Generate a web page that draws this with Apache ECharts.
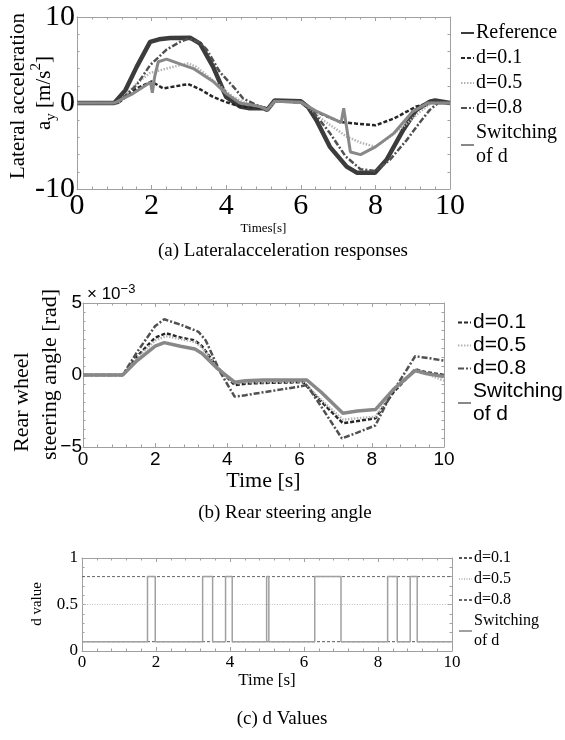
<!DOCTYPE html>
<html><head><meta charset="utf-8">
<script src="https://cdn.jsdelivr.net/npm/echarts@6/dist/echarts.min.js"></script>
<style>html,body{margin:0;padding:0;background:#fff}#c{width:565px;height:740px}</style>
</head><body><div id="c"></div>
<script>
// ---------- tick definitions ----------
const timeTicks = [0, 2, 4, 6, 8, 10];
const aYTicks = [-10, 0, 10];
const bYTicks = [-5, 0, 5];
const cYTicks = [0, 0.5, 1];

// ---------- (a) lateral acceleration [m/s^2] ----------
const aRefT = [0, 1.0, 1.3, 1.6, 1.96, 2.2, 2.5, 3.03, 3.3, 3.65, 4.0, 4.37, 4.6, 5.0, 5.1, 5.3, 6.0, 6.2, 6.42, 6.78, 7.23, 7.5, 7.99, 8.3, 8.75, 9.1, 9.46, 9.6, 10];
const aRefV = [0, 0, 1.5, 4.2, 7.1, 7.4, 7.55, 7.6, 6.9, 4.2, 0.7, -0.4, -0.6, -0.6, -0.8, 0.3, 0.2, -0.5, -2.0, -5.1, -7.4, -8.1, -8.1, -6.6, -3.1, -0.8, 0.15, 0.3, 0];
const a01T = [0, 1.1, 1.6, 2.0, 2.31, 2.98, 3.3, 3.65, 4.0, 4.37, 5.0, 5.1, 5.3, 6.0, 6.4, 7.05, 7.5, 8.0, 8.5, 9.1, 9.46, 10];
const a01V = [0, 0, 1.7, 2.5, 1.7, 2.2, 1.6, 0.7, 0.1, -0.4, -0.6, -0.8, 0.2, 0.1, -1.0, -2.2, -2.4, -2.6, -1.8, -0.4, 0, 0];
const a05T = [0, 1.1, 1.6, 1.96, 2.22, 2.76, 2.98, 3.2, 3.74, 4.19, 4.5, 5.0, 5.1, 5.3, 6.0, 6.2, 6.6, 7.23, 7.6, 8.0, 8.4, 8.84, 9.2, 9.5, 10];
const a05V = [0, 0, 2.3, 3.5, 3.8, 4.4, 4.6, 4.2, 2.3, 0.7, 0, -0.5, -0.8, 0.2, 0.1, -0.5, -2.0, -3.9, -4.6, -5.1, -3.9, -2.4, -1.0, 0, 0];
const a08T = [0, 1.1, 1.6, 1.96, 2.4, 2.76, 3.0, 3.3, 3.48, 3.83, 4.19, 4.46, 4.8, 5.1, 5.3, 6.0, 6.3, 6.78, 7.2, 7.6, 8.0, 8.39, 8.84, 9.2, 9.46, 9.68, 10];
const a08V = [0, 0, 2.1, 4.4, 6.2, 7.1, 7.5, 7.0, 6.2, 3.6, 1.9, 0.5, -0.2, -0.7, 0.2, 0.1, -0.8, -3.5, -6.2, -7.7, -7.9, -6.6, -4.3, -2.2, -0.8, 0, 0];
const aSwT = [0, 1.0, 1.5, 1.97, 2.02, 2.08, 2.18, 2.4, 2.85, 3.12, 3.65, 4.0, 4.1, 4.15, 4.37, 4.9, 5.1, 5.3, 6.0, 6.4, 6.9, 7.08, 7.15, 7.33, 7.6, 8.0, 8.5, 9.0, 9.4, 10];
const aSwV = [0, 0, 1.1, 2.4, 1.2, 3.0, 4.8, 5.1, 4.4, 4.0, 2.5, 1.1, 0.8, 1.0, 0, -0.4, -0.8, 0.2, 0.1, -0.9, -1.9, -2.3, -0.6, -5.7, -6.0, -5.1, -3.5, -1.0, 0, 0];

// ---------- (b) rear steering angle [x 10^-3 rad] ----------
const b01T = [0, 1.1, 1.5, 2.0, 2.3, 2.7, 3.1, 3.3, 3.7, 4.2, 4.5, 5.0, 6.1, 6.5, 7.2, 7.6, 8.1, 8.6, 9.2, 9.5, 10];
const b01V = [0, 0, 1.3, 2.6, 2.9, 2.6, 2.4, 2.0, 0.6, -0.7, -0.6, -0.55, -0.5, -1.6, -3.35, -3.2, -3.0, -1.2, 0.4, 0.2, 0.0];
const b05T = [0, 1.1, 1.5, 2.0, 2.3, 2.7, 3.1, 3.3, 3.7, 4.2, 4.5, 5.0, 6.1, 6.5, 7.2, 7.6, 8.1, 8.6, 9.2, 9.5, 10];
const b05V = [0, 0, 1.2, 2.4, 2.7, 2.5, 2.3, 1.9, 0.6, -0.6, -0.5, -0.5, -0.45, -1.5, -3.1, -3.0, -2.9, -1.0, 0.4, 0.1, -0.4];
const b08T = [0, 1.1, 1.5, 2.0, 2.25, 2.7, 3.2, 3.4, 3.8, 4.2, 4.5, 5.0, 6.0, 6.2, 6.6, 7.17, 7.6, 8.1, 8.5, 9.2, 9.5, 10];
const b08V = [0, 0, 1.6, 3.4, 3.87, 3.5, 3.0, 2.4, 0.2, -1.5, -1.4, -1.2, -0.8, -0.7, -2.2, -4.4, -4.0, -3.5, -1.5, 1.3, 1.2, 1.0];
const bSwT = [0, 1.1, 1.5, 2.0, 2.25, 2.7, 3.1, 3.3, 3.7, 4.2, 4.5, 5.0, 6.2, 6.6, 7.2, 7.6, 8.1, 8.6, 9.2, 9.5, 10];
const bSwV = [0, 0, 1.0, 2.0, 2.25, 2.0, 1.8, 1.5, 0.5, -0.5, -0.4, -0.35, -0.35, -1.2, -2.65, -2.5, -2.4, -1.0, 0.3, 0.1, -0.1];

// ---------- (c) d values ----------
const cSwT = [0, 1.77, 1.98, 3.26, 3.53, 3.88, 4.06, 4.99, 5.05, 6.29, 7.0, 8.26, 8.52, 8.87, 9.06, 10];
const cSwD = [0.1, 0.8, 0.1, 0.8, 0.1, 0.8, 0.1, 0.8, 0.1, 0.8, 0.1, 0.8, 0.1, 0.8, 0.1, 0.1];
const cLevels = [0.1, 0.5, 0.8];

const SERIF = '"Liberation Serif", "Times New Roman", serif';
const SANS = '"Liberation Sans", Arial, sans-serif';
const AX = '#a0a0a0';

function pairs(t, v) { return t.map((x, i) => [x, v[i]]); }

function makeAxes(g, ticks, minor, isX, label) {
  const base = {
    gridIndex: g, type: 'value', min: ticks[0], max: ticks[ticks.length - 1],
    interval: ticks[1] - ticks[0],
    axisLine: { show: true, onZero: false, lineStyle: { color: AX, width: 1 } },
    axisTick: { show: true, inside: true, length: 4, lineStyle: { color: AX } },
    minorTick: { show: true, splitNumber: minor, length: 2.5, lineStyle: { color: AX } },
    splitLine: { show: false }
  };
  const main = Object.assign({}, base, { position: isX ? 'bottom' : 'left', axisLabel: label });
  const mirror = Object.assign({}, base, { position: isX ? 'top' : 'right', axisLabel: { show: false } });
  return [main, mirror];
}

const xAxis = [].concat(
  makeAxes(0, timeTicks, 5, true, { fontFamily: SERIF, fontSize: 30, color: '#000', margin: 2 }),
  makeAxes(1, timeTicks, 5, true, { fontFamily: SANS, fontSize: 19, color: '#000', margin: 3 }),
  makeAxes(2, timeTicks, 5, true, { fontFamily: SERIF, fontSize: 17, color: '#000', margin: 3 })
);
xAxis[0].name = 'Times[s]'; xAxis[0].nameLocation = 'middle'; xAxis[0].nameGap = 27;
xAxis[0].nameTextStyle = { fontFamily: SERIF, fontSize: 13, color: '#000' };
xAxis[2].name = 'Time [s]'; xAxis[2].nameLocation = 'middle'; xAxis[2].nameGap = 19;
xAxis[2].nameTextStyle = { fontFamily: SERIF, fontSize: 22, color: '#000' };
xAxis[4].name = 'Time [s]'; xAxis[4].nameLocation = 'middle'; xAxis[4].nameGap = 15;
xAxis[4].nameTextStyle = { fontFamily: SERIF, fontSize: 17, color: '#000' };

const yAxis = [].concat(
  makeAxes(0, aYTicks, 5, false, { fontFamily: SERIF, fontSize: 30, color: '#000', margin: 2 }),
  makeAxes(1, bYTicks, 8, false, { fontFamily: SANS, fontSize: 19, color: '#000', margin: 1,
    formatter: v => String(v).replace('-', '\u2212') }),
  makeAxes(2, cYTicks, 5, false, { fontFamily: SERIF, fontSize: 17, color: '#000', margin: 4 })
);

function line(name, xi, yi, data, color, width, type, extra) {
  return Object.assign({
    name, type: 'line', xAxisIndex: xi, yAxisIndex: yi, data,
    showSymbol: false, symbol: 'none', animation: false, silent: true,
    lineStyle: { color, width, type }, itemStyle: { color }
  }, extra || {});
}

const DASH = [4, 2], DOT = [1.5, 1.5], DASHDOT = [6, 2, 2, 2];
const SWN = 'Switching\nof d';

const series = [
  line('a:Reference', 0, 0, pairs(aRefT, aRefV), '#3c3c3c', 4.5, 'solid'),
  line('a:d=0.1', 0, 0, pairs(a01T, a01V), '#262626', 2.5, DASH),
  line('a:d=0.5', 0, 0, pairs(a05T, a05V), '#b4b4b4', 2.5, DOT),
  line('a:d=0.8', 0, 0, pairs(a08T, a08V), '#505050', 2.5, DASHDOT),
  line('a:' + SWN, 0, 0, pairs(aSwT, aSwV), '#888888', 3, 'solid'),

  line('b:d=0.1', 2, 2, pairs(b01T, b01V), '#262626', 2.5, DASH),
  line('b:d=0.5', 2, 2, pairs(b05T, b05V), '#b4b4b4', 2.5, DOT),
  line('b:d=0.8', 2, 2, pairs(b08T, b08V), '#505050', 2.5, DASHDOT),
  line('b:' + SWN, 2, 2, pairs(bSwT, bSwV), '#888888', 3.5, 'solid'),

  line('c:d=0.1', 4, 4, [[timeTicks[0], cLevels[0]], [timeTicks[5], cLevels[0]]], '#555555', 1, [3, 2]),
  line('c:d=0.5', 4, 4, [[timeTicks[0], cLevels[1]], [timeTicks[5], cLevels[1]]], '#c0c0c0', 1, [1, 1.5]),
  line('c:d=0.8', 4, 4, [[timeTicks[0], cLevels[2]], [timeTicks[5], cLevels[2]]], '#666666', 1, [3, 2]),
  line('c:' + SWN, 4, 4, pairs(cSwT, cSwD), '#a0a0a0', 1.5, 'solid', { step: 'end' })
];

function legend(prefix, names, left, top, font, size, lh, gap) {
  return {
    data: names.map(n => prefix + n), orient: 'vertical', left, top, padding: 0,
    itemWidth: 13, itemHeight: 2, itemGap: gap, selectedMode: false,
    itemStyle: { color: 'rgba(0,0,0,0)', borderColor: 'rgba(0,0,0,0)', borderWidth: 0, opacity: 0 },
    formatter: n => n.slice(2),
    textStyle: { fontFamily: font, fontSize: size, lineHeight: lh, color: '#000', padding: [0, 0, 0, -3] }
  };
}

const txt = (text, x, y, font, size, align, extra) => Object.assign({
  type: 'text', x, y, silent: true,
  style: { text, fill: '#000', font: size + 'px ' + font, textAlign: align || 'center', textVerticalAlign: 'middle' }
}, extra || {});

const graphic = [
  // y-axis titles
  txt('Lateral acceleration', 18, 96, SERIF, 21, 'center', { rotation: Math.PI / 2 }),
  {
    type: 'text', x: 44, y: 93, rotation: Math.PI / 2, silent: true,
    style: {
      text: '{n|a}{sub|y}{n| [m/s}{sup|2}{n|]}', fill: '#000', textAlign: 'center', textVerticalAlign: 'middle',
      rich: {
        n: { fontFamily: SERIF, fontSize: 21, lineHeight: 30, verticalAlign: 'middle' },
        sub: { fontFamily: SERIF, fontSize: 15, lineHeight: 15, verticalAlign: 'bottom' },
        sup: { fontFamily: SERIF, fontSize: 15, lineHeight: 15, verticalAlign: 'top' }
      }
    }
  },
  txt('Rear wheel', 22, 452, SERIF, 22, 'left', { rotation: Math.PI / 2 }),
  txt('steering angle [rad]', 50, 460, SERIF, 22, 'left', { rotation: Math.PI / 2 }),
  txt('d value', 37, 604, SERIF, 15, 'center', { rotation: Math.PI / 2 }),
  {
    type: 'text', x: 87, y: 294, silent: true,
    style: {
      text: '{n|\u00d7 10}{sup|\u22123}', fill: '#000', textAlign: 'left', textVerticalAlign: 'middle',
      rich: {
        n: { fontFamily: SANS, fontSize: 17, lineHeight: 22, verticalAlign: 'middle' },
        sup: { fontFamily: SANS, fontSize: 13, lineHeight: 13, verticalAlign: 'top' }
      }
    }
  },
  // captions
  txt('(a) Lateralacceleration responses', 283, 251, SERIF, 19),
  txt('(b) Rear steering angle', 285, 513, SERIF, 19),
  txt('(c) d Values', 282, 719, SERIF, 19)
];

const chart = echarts.init(document.getElementById('c'), null, { renderer: 'canvas' });
chart.setOption({
  animation: false,
  backgroundColor: '#fff',
  grid: [
    { left: 77, top: 17, width: 373, height: 172, outerBoundsMode: 'none' },
    { left: 83, top: 303, width: 361, height: 144, outerBoundsMode: 'none' },
    { left: 82, top: 558, width: 370, height: 93, outerBoundsMode: 'none' }
  ],
  xAxis, yAxis, series, graphic,
  legend: [
    legend('a:', ['Reference', 'd=0.1', 'd=0.5', 'd=0.8', SWN], 460, 21, SERIF, 20, 24, 1),
    legend('b:', ['d=0.1', 'd=0.5', 'd=0.8', SWN], 457, 311, SANS, 21, 23, 0),
    legend('c:', ['d=0.1', 'd=0.5', 'd=0.8', SWN], 458, 548, SERIF, 16, 20, 1)
  ]
});
</script></body></html>
